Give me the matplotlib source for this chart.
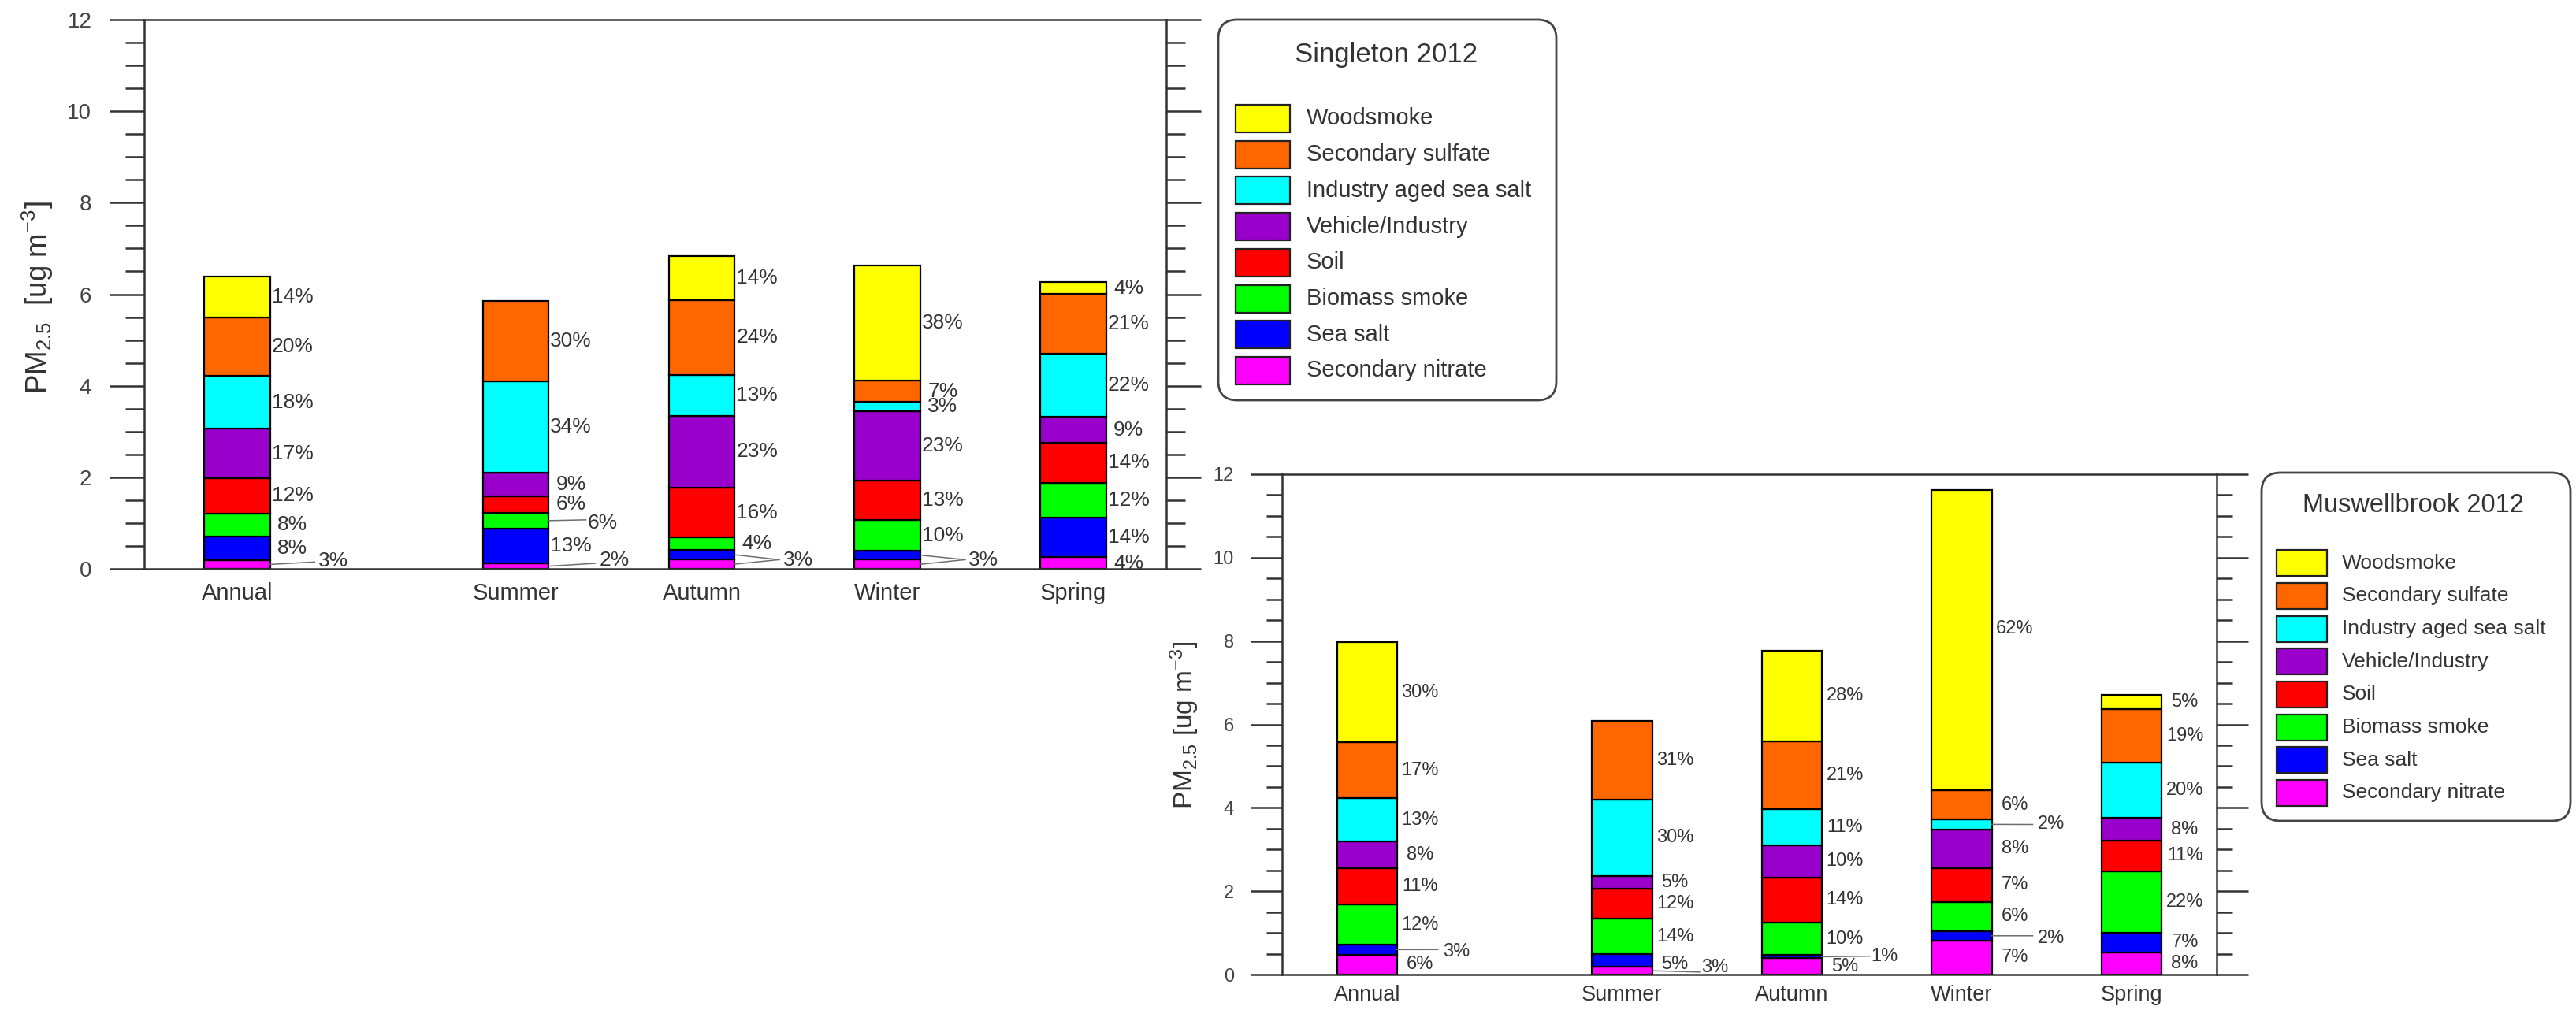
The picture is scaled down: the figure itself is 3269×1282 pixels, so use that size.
import numpy as np
import matplotlib
matplotlib.use('Agg')
import matplotlib.pyplot as plt
from matplotlib.patches import FancyBboxPatch, Rectangle
from matplotlib.ticker import MultipleLocator

plt.rcParams['font.family'] = ['Liberation Sans', 'DejaVu Sans']
plt.rcParams['mathtext.fontset'] = 'custom'
plt.rcParams['mathtext.rm'] = 'Liberation Sans'
plt.rcParams['mathtext.it'] = 'Liberation Sans:italic'
plt.rcParams['mathtext.bf'] = 'Liberation Sans:bold'

# PMF source contributions, legend order (top of the stack first)
sources = ['Woodsmoke', 'Secondary sulfate', 'Industry aged sea salt', 'Vehicle/Industry',
           'Soil', 'Biomass smoke', 'Sea salt', 'Secondary nitrate']
colours = ['#ffff00', '#ff6600', '#00ffff', '#9900cc', '#ff0000', '#00ff00', '#0000ff', '#ff00ff']
seasons = ['Annual', 'Summer', 'Autumn', 'Winter', 'Spring']
x_pos = [0, 1.5, 2.5, 3.5, 4.5]

# total PM2.5 (ug/m3) per period
singleton_total = [6.38, 5.85, 6.83, 6.63, 6.26]
muswell_total = [7.97, 6.08, 7.77, 11.62, 6.70]

# percentage share of each source, rows follow `sources`, columns follow `seasons`
singleton_pct = [
    [14, 0, 14, 38, 4],
    [20, 30, 24, 7, 21],
    [18, 34, 13, 3, 22],
    [17, 9, 23, 23, 9],
    [12, 6, 16, 13, 14],
    [8, 6, 4, 10, 12],
    [8, 13, 3, 3, 14],
    [3, 2, 3, 3, 4],
]
muswell_pct = [
    [30, 0, 28, 62, 5],
    [17, 31, 21, 6, 19],
    [13, 30, 11, 2, 20],
    [8, 5, 10, 8, 8],
    [11, 12, 14, 7, 11],
    [12, 14, 10, 6, 22],
    [3, 5, 1, 2, 7],
    [6, 3, 5, 7, 8],
]

# small segments get a leader line: (text dx, text y, line dx, line y), dx from bar edge
singleton_leaders = {
    (0, 7): (0.26, 0.17, 0.24, 0.15),
    (1, 5): (0.21, 1.00, 0.20, 1.07),
    (1, 7): (0.27, 0.19, 0.25, 0.12),
    (2, 6): (0.26, 0.19, 0.24, 0.20),
    (2, 7): (None, None, 0.24, 0.20),
    (3, 6): (0.26, 0.19, 0.24, 0.20),
    (3, 7): (None, None, 0.24, 0.20),
}
muswell_leaders = {
    (0, 6): (0.27, 0.55, 0.24, 0.60),
    (1, 7): (0.29, 0.17, 0.28, 0.06),
    (2, 6): (0.29, 0.44, 0.28, 0.44),
    (3, 2): (0.27, 3.60, 0.24, 3.60),
    (3, 6): (0.27, 0.86, 0.24, 0.93),
}
muswell_label_y = {(1, 6): 0.25, (3, 0): 8.3}

TXT = '#333333'
AX = '#333333'

top_style = dict(rect=[183 / 3269, 1 - 722 / 1282, 1297 / 3269, 697 / 1282],
                 major=32, minor=17, tick_fs=20, pad=16, cat_fs=21, cat_pad=12,
                 pct_fs=19, lab_dx=0.12, ylab_xy=(-0.104, 0.494), ylab_fs=26.5,
                 ylabel=r'PM$_{2.5}$  [ug m$^{-3}$]')
bot_style = dict(rect=[1627 / 3269, 1 - 1237 / 1282, 1186 / 3269, 635 / 1282],
                 major=29, minor=14.5, tick_fs=17, pad=15, cat_fs=19.5, cat_pad=9.5,
                 pct_fs=17, lab_dx=0.135, ylab_xy=(-0.1046, 0.499), ylab_fs=24,
                 ylabel=r'PM$_{2.5}$ [ug m$^{-3}$]')


def setup_axes(ax, s):
    ax.set_xlim(-0.5, 5.0)
    ax.set_ylim(0, 12)
    ax.yaxis.set_major_locator(MultipleLocator(2))
    ax.yaxis.set_minor_locator(MultipleLocator(0.5))
    ax.tick_params(axis='y', which='both', direction='out', left=True, right=True,
                   labelleft=True, labelright=False, width=1.8, color=AX)
    ax.tick_params(axis='y', which='major', length=s['major'], labelsize=s['tick_fs'],
                   pad=s['pad'], labelcolor='#444444')
    ax.tick_params(axis='y', which='minor', length=s['minor'])
    ax.set_xticks(x_pos, seasons)
    ax.tick_params(axis='x', length=0, labelsize=s['cat_fs'], pad=s['cat_pad'], labelcolor=TXT)
    for sp in ax.spines.values():
        sp.set_color(AX)
        sp.set_linewidth(1.8)
    ax.text(*s['ylab_xy'], s['ylabel'], transform=ax.transAxes, rotation=90,
            ha='center', va='center', fontsize=s['ylab_fs'], color=TXT)


def stacked_bars(ax, total, pct, s, leaders, label_y):
    bar_w = 0.355
    for j, x in enumerate(x_pos):
        seg = [total[j] * row[j] / 100.0 for row in pct]
        edge = x + bar_w / 2
        bottom = 0.0
        # secondary nitrate sits at the bottom, woodsmoke on top
        for i in range(len(pct) - 1, -1, -1):
            if pct[i][j] == 0:
                continue
            ax.bar(x, seg[i], bar_w, bottom=bottom, color=colours[i],
                   edgecolor='black', linewidth=1.6, zorder=2)
            mid = bottom + seg[i] / 2
            txt = f'{pct[i][j]}%'
            if (j, i) in leaders:
                tdx, ty, ldx, ly = leaders[(j, i)]
                ax.plot([edge, edge + ldx], [mid, ly], color='#6e6e6e', lw=1.1, zorder=3)
                if tdx is not None:
                    ax.text(edge + tdx, ty, txt, ha='left', va='center',
                            fontsize=s['pct_fs'], color=TXT)
            else:
                ax.text(edge + s['lab_dx'], label_y.get((j, i), mid), txt, ha='center',
                        va='center', fontsize=s['pct_fs'], color=TXT)
            bottom += seg[i]


def draw_key(axk, box, title, title_xy, title_fs, px, pw, top0, step, ph, tx, text_fs):
    x0, y0, x1, y1 = box
    axk.add_patch(FancyBboxPatch((x0, y0), x1 - x0, y1 - y0,
                                 boxstyle='round,pad=0,rounding_size=24',
                                 fc='white', ec='#444444', lw=2.0))
    axk.text(*title_xy, title, ha='center', va='center', fontsize=title_fs, color=TXT)
    for i, name in enumerate(sources):
        yt = top0 + i * step
        axk.add_patch(Rectangle((px, yt), pw, ph, fc=colours[i], ec='#222222', lw=1.6))
        axk.text(tx, yt + ph / 2, name, ha='left', va='center', fontsize=text_fs, color=TXT)


fig = plt.figure(figsize=(32.69, 12.82), dpi=100)

ax1 = fig.add_axes(top_style['rect'])
setup_axes(ax1, top_style)
stacked_bars(ax1, singleton_total, singleton_pct, top_style, singleton_leaders, {})

ax2 = fig.add_axes(bot_style['rect'])
setup_axes(ax2, bot_style)
stacked_bars(ax2, muswell_total, muswell_pct, bot_style, muswell_leaders, muswell_label_y)

# legend boxes drawn in pixel space on a full-figure overlay
axk = fig.add_axes([0, 0, 1, 1])
axk.set_xlim(0, 3269)
axk.set_ylim(1282, 0)
axk.axis('off')
draw_key(axk, (1546, 25, 1975, 508), 'Singleton 2012', (1759, 70), 25,
         1568, 69, 133, 45.7, 35, 1658, 21)
draw_key(axk, (2870, 600, 3262, 1042), 'Muswellbrook 2012', (3063, 642), 23.5,
         2889, 64, 698.3, 41.67, 33, 2972, 19)

fig.savefig('out.png', dpi=100, facecolor='white')
